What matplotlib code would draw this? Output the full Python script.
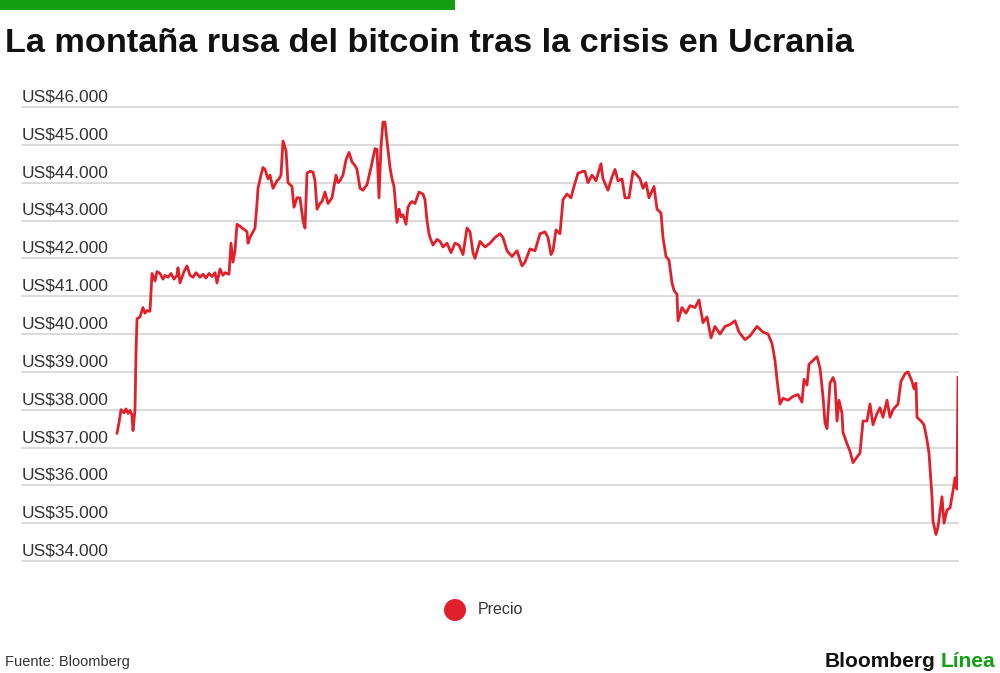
import matplotlib
matplotlib.use("Agg")
import matplotlib.pyplot as plt
import matplotlib.transforms as mtransforms
from matplotlib.patches import Ellipse, Rectangle

# ---- data (time steps, price in thousands of US$) ----
t_steps = [0, 2, 4, 7, 9, 11, 13, 15, 16, 18, 19, 20, 23, 26, 28, 30, 33, 35, 38, 40,
           43, 46, 48, 51, 54, 57, 60, 61, 63, 67, 70, 73, 76, 79, 83, 86, 89, 92, 95, 98,
           100, 103, 106, 108, 112, 114, 116, 118, 120, 123, 125, 128, 130, 131, 133, 135, 138, 140, 141, 144,
           146, 148, 151, 153, 156, 158, 160, 162, 164, 166, 169, 171, 173, 175, 177, 180, 183, 186, 188, 190,
           193, 196, 198, 200, 203, 205, 208, 211, 215, 219, 221, 223, 226, 229, 232, 235, 238, 240, 243, 246,
           250, 254, 258, 260, 262, 264, 266, 268, 270, 273, 275, 277, 278, 280, 282, 284, 286, 289, 291, 293,
           295, 298, 302, 306, 308, 310, 312, 313, 316, 320, 323, 326, 330, 334, 338, 342, 346, 350, 353, 356,
           358, 363, 368, 373, 378, 383, 386, 390, 395, 400, 405, 408, 413, 418, 423, 428, 431, 434, 436, 439,
           443, 446, 450, 454, 457, 461, 466, 468, 471, 475, 479, 484, 486, 491, 495, 498, 501, 505, 508, 512,
           516, 520, 523, 526, 529, 532, 537, 540, 544, 546, 549, 552, 555, 557, 560, 561, 565, 569, 573, 578,
           582, 586, 590, 594, 598, 603, 608, 613, 618, 622, 628, 633, 640, 646, 651, 655, 658, 660, 663, 666,
           671, 676, 681, 685, 687, 690, 692, 696, 700, 703, 706, 708, 710, 713, 716, 718, 720, 722, 725, 726,
           730, 733, 736, 740, 743, 746, 750, 753, 756, 760, 763, 766, 770, 773, 776, 781, 784, 788, 791, 795,
           797, 799, 800, 804, 807, 810, 812, 815, 816, 819, 821, 825, 827, 830, 833, 836, 838, 840, 841]
precio_k = [37.38, 37.65, 38.00, 37.92, 38.02, 37.90, 37.98, 37.85, 37.45, 38.00, 39.50, 40.40, 40.45, 40.70, 40.55, 40.62, 40.60, 41.60, 41.40, 41.65,
            41.60, 41.45, 41.55, 41.50, 41.60, 41.45, 41.55, 41.75, 41.35, 41.65, 41.80, 41.55, 41.50, 41.62, 41.50, 41.58, 41.48, 41.60, 41.52, 41.62,
            41.35, 41.72, 41.55, 41.62, 41.58, 42.40, 41.90, 42.20, 42.90, 42.85, 42.80, 42.75, 42.70, 42.40, 42.55, 42.65, 42.80, 43.45, 43.85, 44.20,
            44.40, 44.35, 44.10, 44.20, 43.85, 43.95, 44.05, 44.10, 44.20, 45.10, 44.85, 44.00, 43.95, 43.90, 43.35, 43.60, 43.60, 43.00, 42.80, 44.25,
            44.30, 44.28, 44.05, 43.30, 43.45, 43.50, 43.75, 43.45, 43.60, 44.20, 44.00, 44.05, 44.20, 44.60, 44.80, 44.55, 44.45, 44.35, 43.85, 43.80,
            43.95, 44.40, 44.90, 44.88, 43.60, 44.95, 45.60, 45.60, 45.10, 44.40, 44.10, 43.90, 43.60, 42.95, 43.30, 43.10, 43.15, 42.90, 43.35, 43.45,
            43.50, 43.45, 43.75, 43.70, 43.55, 43.00, 42.65, 42.55, 42.35, 42.50, 42.45, 42.30, 42.40, 42.15, 42.40, 42.35, 42.10, 42.80, 42.70, 42.15,
            42.00, 42.45, 42.30, 42.40, 42.55, 42.65, 42.55, 42.20, 42.05, 42.20, 41.80, 41.90, 42.25, 42.20, 42.65, 42.70, 42.55, 42.10, 42.20, 42.75,
            42.65, 43.55, 43.70, 43.60, 43.90, 44.25, 44.30, 44.30, 44.00, 44.20, 44.05, 44.50, 44.10, 43.80, 44.15, 44.35, 44.05, 44.10, 43.60, 43.60,
            44.30, 44.20, 44.10, 43.85, 44.00, 43.60, 43.90, 43.30, 43.20, 42.55, 42.05, 41.95, 41.35, 41.15, 41.05, 40.35, 40.70, 40.55, 40.75, 40.70,
            40.90, 40.30, 40.45, 39.90, 40.20, 40.00, 40.20, 40.25, 40.35, 40.05, 39.85, 39.95, 40.20, 40.05, 40.00, 39.75, 39.30, 38.80, 38.15, 38.30,
            38.25, 38.35, 38.40, 38.20, 38.80, 38.65, 39.20, 39.30, 39.40, 39.10, 38.35, 37.65, 37.50, 38.70, 38.85, 38.70, 37.70, 38.25, 37.90, 37.40,
            37.10, 36.90, 36.60, 36.75, 36.85, 37.70, 37.70, 38.15, 37.60, 37.90, 38.05, 37.80, 38.25, 37.80, 38.00, 38.15, 38.75, 38.95, 39.00, 38.75,
            38.55, 38.70, 37.80, 37.70, 37.60, 37.20, 36.85, 35.70, 35.05, 34.70, 34.90, 35.70, 35.00, 35.35, 35.40, 35.85, 36.20, 35.90, 38.85]

y_ticks = [34000, 35000, 36000, 37000, 38000, 39000, 40000, 41000, 42000, 43000, 44000, 45000, 46000]
y_tick_labels = ["US$34.000", "US$35.000", "US$36.000", "US$37.000", "US$38.000", "US$39.000",
                 "US$40.000", "US$41.000", "US$42.000", "US$43.000", "US$44.000", "US$45.000", "US$46.000"]

titulo = "La montaña rusa del bitcoin tras la crisis en Ucrania"
serie = "Precio"
fuente = "Fuente: Bloomberg"

n = min(len(t_steps), len(precio_k))
xs = t_steps[:n]
ys = [v * 1000 for v in precio_k[:n]]

# ---- style ----
RED = "#e0202b"
GREEN = "#12a012"
TXT = "#333333"
GRID = "#d4d4d4"
font = "Liberation Sans"

W, H = 1000, 673
fig = plt.figure(figsize=(W / 100, H / 100), dpi=100)
fig.patch.set_facecolor("white")

# green bar at top
fig.patches.append(Rectangle((0, 1 - 10 / H), 455 / W, 10 / H, transform=fig.transFigure,
                             facecolor=GREEN, edgecolor="none"))

# title
fig.text(5 / W, 1 - 52 / H, titulo, fontsize=24.7, fontweight="bold", color="#111111",
         family=font, ha="left", va="baseline")

ax = fig.add_axes([22 / W, 1 - 561 / H, 936 / W, 454 / H])
ax.plot(xs, ys, color=RED, lw=2.0, solid_joinstyle="round", zorder=3)
ax.set_xlim(-95, 841)
ax.set_ylim(34000, 46000)
ax.set_yticks(y_ticks)
ax.set_yticklabels([])
ax.tick_params(left=False, bottom=False, labelbottom=False)
ax.set_xticks([])
for s in ax.spines.values():
    s.set_visible(False)
ax.grid(False)
for v in y_ticks:
    ax.axhline(v, color=GRID, lw=1.2, zorder=1, clip_on=False)

trans = mtransforms.blended_transform_factory(ax.transAxes, ax.transData)
for v, lab in zip(y_ticks, y_tick_labels):
    ax.text(0, v, lab, transform=trans + mtransforms.ScaledTranslation(0, 2.5 / 100, fig.dpi_scale_trans),
            ha="left", va="bottom", fontsize=12.5, color=TXT, family=font)

# legend
fig.patches.append(Ellipse((455 / W, 1 - 610 / H), 22 / W, 22 / H, transform=fig.transFigure,
                           facecolor=RED, edgecolor="none"))
fig.text(478 / W, 1 - 610 / H, serie, fontsize=11.5, color=TXT, family=font, ha="left", va="center")

# footer
fig.text(5 / W, 1 - 662 / H, fuente, fontsize=10.5, color=TXT, family=font, ha="left", va="center")
t2 = fig.text(995 / W, 1 - 667 / H, "Línea", fontsize=15, fontweight="bold", color=GREEN,
              family=font, ha="right", va="baseline")
fig.canvas.draw()
bb = t2.get_window_extent()
fig.text((bb.x0 - 5) / W, 1 - 667 / H, "Bloomberg", fontsize=15, fontweight="bold", color="#111111",
         family=font, ha="right", va="baseline")

fig.savefig("out.png", dpi=100, facecolor="white")
